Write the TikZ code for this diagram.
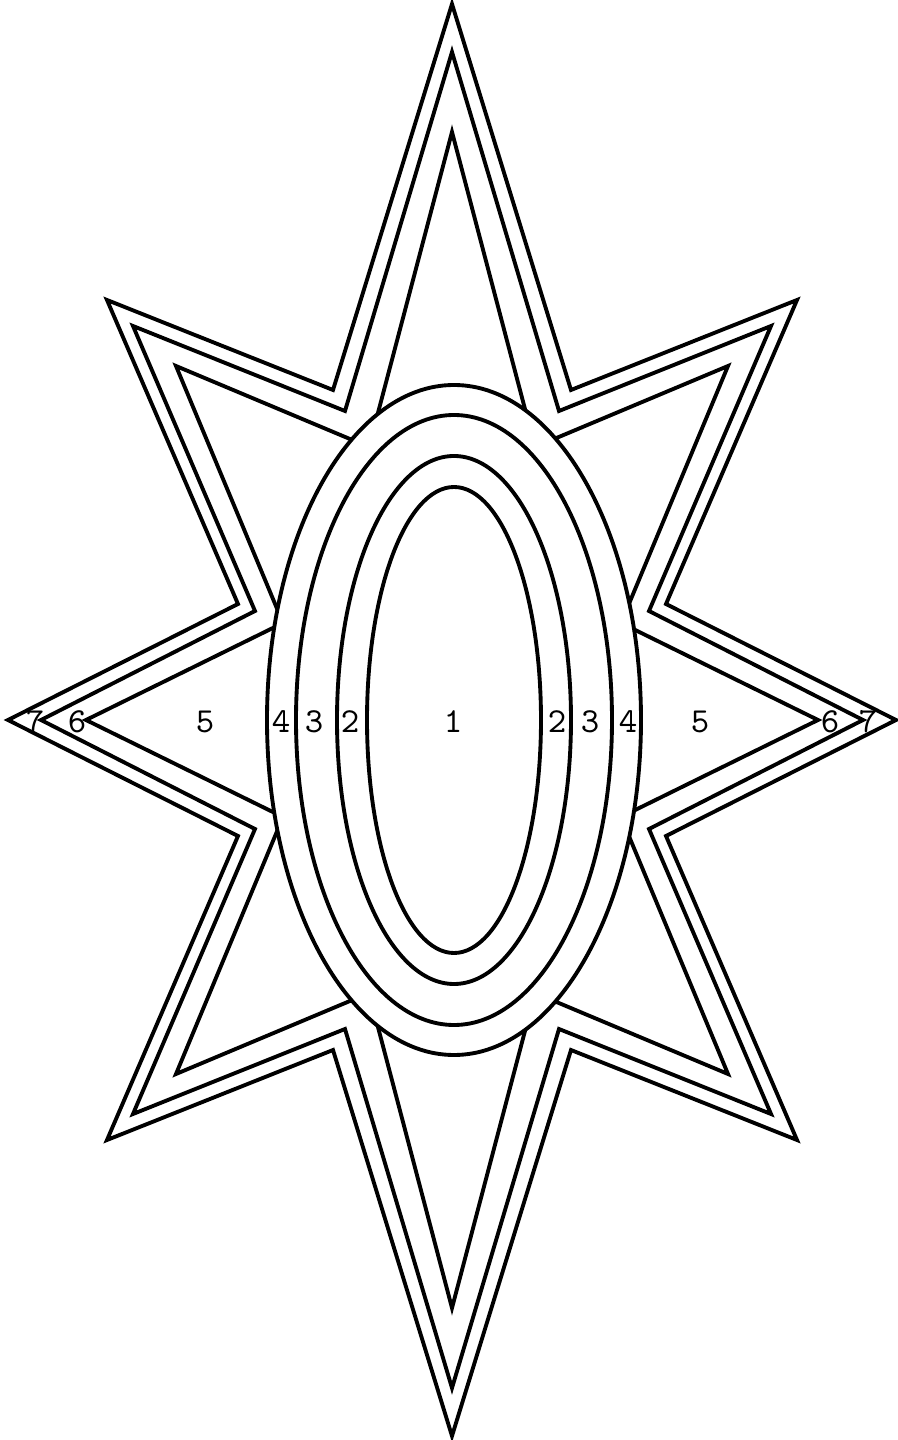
\documentclass[tikz,border=0pt]{standalone}
\usepackage{tikz}

\begin{document}
\begin{tikzpicture}[
  x=0.1mm, y=0.1mm,
  line width=1.1pt, line join=miter,
  every node/.style={font=\ttfamily\fontsize{10}{10}\selectfont, inner sep=0pt},
  ring/.style={draw, fill=white}
]
\useasboundingbox (-452,-720) rectangle (445,720);

\foreach \t/\dx/\dy/\l/\ax/\ay/\bx/\by in {716/345/420/444/119/330/214/116,
                                           668/319/394/411/107/309/197/109,
                                           588/276/354/366/83/273/169/97}
  \draw (0,\t) -- (\ax,\ay) -- (\dx,\dy) -- (\bx,\by) -- (\l,0)
    -- (\bx,-\by) -- (\dx,-\dy) -- (\ax,-\ay) -- (0,-\t)
    -- (-\ax,-\ay) -- (-\dx,-\dy) -- (-\bx,-\by) -- (-\l,0)
    -- (-\bx,\by) -- (-\dx,\dy) -- (-\ax,\ay) -- cycle;

\draw[ring] (2,0) ellipse [x radius=187, y radius=335];
\draw (2,0) ellipse [x radius=158, y radius=305];
\draw (2,0) ellipse [x radius=117, y radius=264];
\draw (2,0) ellipse [x radius=87, y radius=233];

\node (l7) at (-417,-2) {7};
\node (l6) at (-375,-2) {6};
\node (l5) at (-247,-2) {5};
\node (l4) at (-171,-2) {4};
\node (l3) at (-138,-2) {3};
\node (l2) at (-102,-2) {2};
\node (c1) at (1,-2) {1};
\node (r2) at (105,-2) {2};
\node (r3) at (138,-2) {3};
\node (r4) at (176,-2) {4};
\node (r5) at (248,-2) {5};
\node (r6) at (378,-2) {6};
\node (r7) at (416,-2) {7};
\end{tikzpicture}
\end{document}
